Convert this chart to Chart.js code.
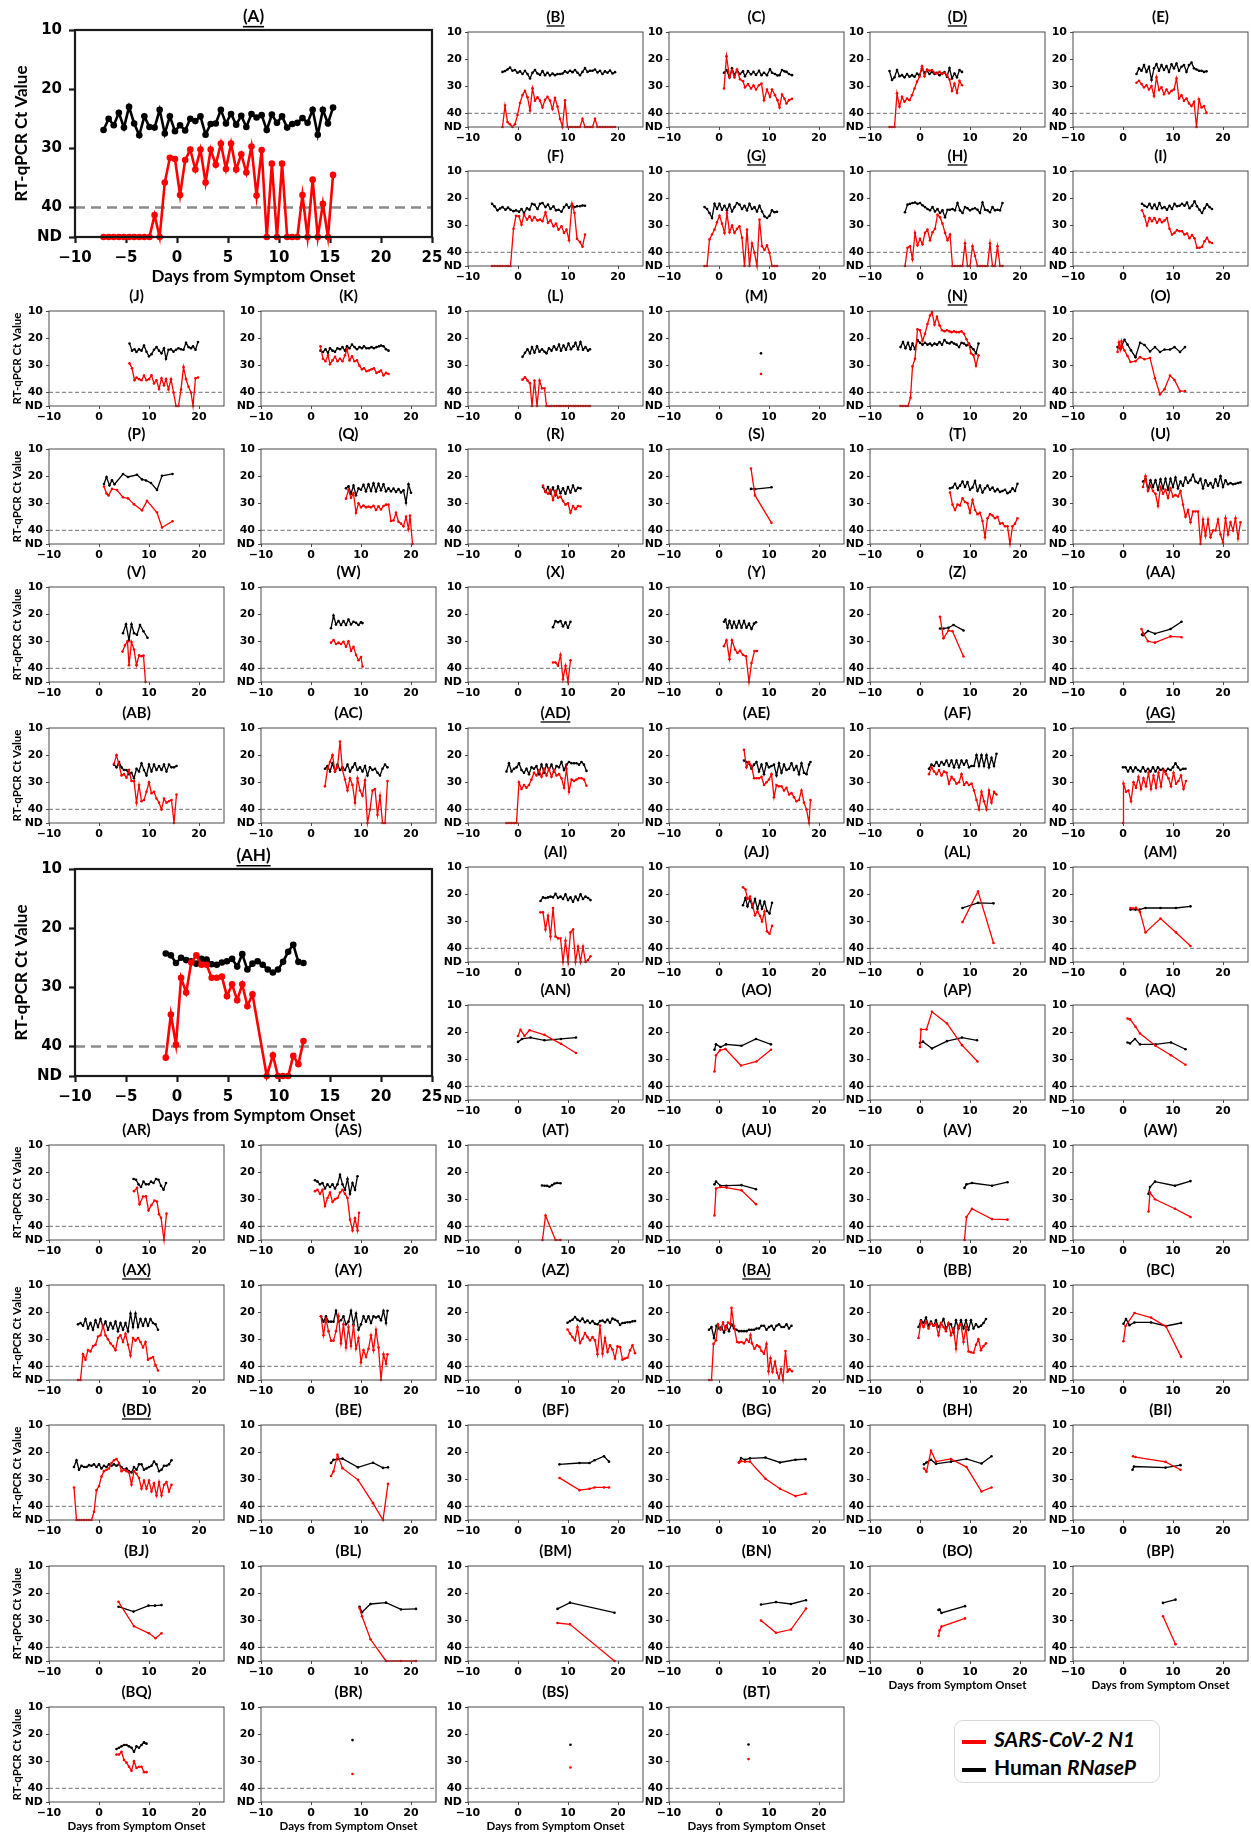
<!DOCTYPE html>
<html>
<head>
<meta charset="utf-8">
<title>RT-qPCR Ct values by days from symptom onset</title>
<script src="https://cdn.jsdelivr.net/npm/chart.js@4.4.1/dist/chart.umd.min.js"></script>
<style>
  html, body { margin: 0; padding: 0; background: #fff; }
  #fig { position: relative; width: 1251px; height: 1839px; overflow: hidden; }
  #fig canvas { position: absolute; }
  #legend { position: absolute; left: 954px; top: 1720px; width: 206px; height: 63px; border: 1px solid #d9d9d9;
            border-radius: 9px; box-sizing: border-box; font-family: Lato, sans-serif; font-weight: bold; font-size: 21px; color: #000; }
  #legend .row { position: absolute; left: 7px; height: 26px; line-height: 26px; white-space: nowrap; }
  #legend .sw { display: inline-block; width: 24px; height: 4px; vertical-align: middle; margin-right: 8px; }
</style>
</head>
<body>
<div id="fig">
  <div id="legend">
    <div class="row" style="top:5px"><span class="sw" style="background:#ff0000"></span><i>SARS-CoV-2 N1</i></div>
    <div class="row" style="top:33px"><span class="sw" style="background:#000"></span>Human <i>RNaseP</i></div>
  </div>
</div>
<script>
// ND = not detected, plotted on the bottom line
const ND = 45;

const X_TICKS_SMALL = [-10, 0, 10, 20];
const X_TICKS_BIG = [-10, -5, 0, 5, 10, 15, 20, 25];
const Y_TICKS = [10, 20, 30, 40, ND];

// ---- data: days from symptom onset, N1 Ct and RNaseP Ct per participant ----
const days_A = [-7.2,-6.7,-6.2,-5.7,-5.2,-4.7,-4.2,-3.7,-3.2,-2.7,-2.2,-1.7,-1.2,-0.7,-0.2,0.3,0.8,1.3,1.8,2.3,2.8,3.3,3.8,4.3,4.8,5.3,5.8,6.3,6.8,7.3,7.8,8.3,8.8,9.3,9.8,10.3,10.8,11.3,11.8,12.3,12.8,13.3,13.8,14.3,14.8,15.3];
const n1_A = [ND,ND,ND,ND,ND,ND,ND,ND,ND,ND,41.3,ND,35.8,31.6,31.8,37.9,32.0,30.2,33.6,30.2,35.8,30.2,32.8,29.2,33.5,29.2,33.6,31.0,34.1,29.7,38.0,30.3,ND,32.6,ND,32.6,ND,ND,ND,37.9,ND,35.3,ND,39.4,ND,34.5];
const rp_A = [26.9,25.0,26.1,24.0,26.5,23.0,25.8,27.8,24.6,26.4,26.5,23.5,27.5,24.6,27.1,26.1,27.0,25.0,25.4,24.6,27.7,25.9,25.8,23.5,25.8,24.2,26.0,24.5,26.4,24.2,24.8,24.4,26.9,24.3,25.7,24.6,26.5,25.9,25.7,24.9,25.7,23.5,27.7,23.5,25.8,23.1];

const days_B = [-3.1,-2.6,-2.1,-1.6,-1.1,-0.6,-0.1,0.4,0.9,1.4,1.9,2.4,2.9,3.4,3.9,4.4,4.9,5.4,5.9,6.4,6.9,7.4,7.9,8.4,8.9,9.4,9.9,10.4,10.9,11.4,11.9,12.4,12.9,13.4,13.9,14.4,14.9,15.4,15.9,16.4,16.9,17.4,17.9,18.4,18.9,19.4];
const n1_B = [ND,37.1,43.2,44.0,ND,44.0,40.6,36.2,33.2,31.7,34.0,38.9,30.7,35.3,34.1,35.3,37.8,35.0,33.9,35.3,38.4,34.3,37.5,42.0,ND,35.2,ND,ND,ND,ND,ND,ND,42.0,ND,ND,ND,ND,42.0,ND,ND,ND,ND,ND,ND,ND,ND];
const rp_B = [24.7,24.4,23.8,23.1,24.3,24.0,25.0,24.5,25.5,24.3,25.5,27.1,25.0,24.0,25.3,25.8,24.4,25.9,25.0,26.0,25.3,25.9,25.5,25.5,25.3,24.5,25.0,24.3,24.8,24.0,25.0,25.9,24.7,23.3,24.7,24.3,24.3,23.8,24.9,24.3,25.5,24.5,25.0,24.2,25.3,24.8];

const days_C = [1.0,1.5,2.1,2.6,3.1,3.6,4.2,4.8,5.2,5.8,6.4,6.9,7.4,8.0,8.5,9.0,9.6,10.2,10.6,11.2,11.7,12.1,12.6,13.1,13.5,14.0,14.6];
const n1_C = [30.8,18.9,26.7,24.0,26.7,23.8,27.4,28.1,30.4,29.2,30.8,29.7,31.2,29.6,29.0,35.1,31.2,33.9,31.2,33.3,35.1,37.8,33.0,34.6,36.3,35.1,34.6];
const rp_C = [25.0,24.0,26.7,23.4,25.9,24.0,25.5,24.5,26.3,24.4,25.6,24.7,25.8,24.3,25.9,25.0,25.9,23.7,25.0,25.5,26.0,25.9,24.0,24.5,24.7,25.5,25.9];

const days_D = [-6.1,-5.6,-5.1,-4.6,-4.1,-3.6,-3.1,-2.6,-2.1,-1.6,-1.1,-0.6,-0.1,0.4,0.9,1.4,1.9,2.4,2.9,3.4,3.9,4.4,4.9,5.4,5.9,6.4,6.9,7.4,7.9,8.4];
const n1_D = [ND,ND,ND,32.6,37.5,33.9,35.7,34.5,35.1,33.3,30.8,28.3,26.5,22.6,26.3,23.8,24.3,24.0,25.0,25.3,24.7,25.5,25.0,25.9,27.5,31.7,29.0,32.4,28.0,29.6];
const rp_D = [24.4,27.7,26.7,24.0,26.3,25.9,26.7,25.5,26.5,25.9,26.5,25.3,25.9,23.4,25.0,24.3,25.5,24.7,25.5,25.0,25.9,25.3,24.8,26.5,23.3,27.1,25.3,26.7,24.0,24.7];

const days_E = [2.7,3.2,3.7,4.2,4.7,5.2,5.7,6.2,6.7,7.2,7.7,8.2,8.7,9.2,9.7,10.2,10.7,11.2,11.7,12.2,12.7,13.2,13.7,14.2,14.7,15.2,15.7,16.2,16.7];
const n1_E = [28.7,28.0,29.2,30.4,29.6,31.2,29.9,33.6,26.7,31.4,30.4,32.9,31.2,32.6,31.7,31.2,27.1,34.5,33.3,35.3,34.5,36.3,37.3,35.7,ND,34.8,37.8,37.3,39.8];
const rp_E = [25.5,23.4,24.3,22.2,24.7,22.8,27.7,23.4,21.8,24.3,22.2,24.0,22.5,24.7,21.9,23.4,21.6,24.3,22.8,22.2,24.7,22.2,21.3,23.4,23.8,24.3,24.3,24.7,24.5];

const days_F = [-5.2,-4.7,-4.1,-3.6,-3.1,-2.5,-2.0,-1.5,-0.9,-0.4,0.2,0.7,1.2,1.8,2.3,2.8,3.3,3.9,4.4,4.9,5.5,6.0,6.5,7.1,7.6,8.1,8.7,9.2,9.7,10.2,10.8,11.3,11.8,12.4,12.9,13.4];
const n1_F = [ND,ND,ND,ND,ND,ND,ND,ND,31.3,26.5,26.7,29.8,26.1,27.9,26.7,28.2,27.0,28.2,27.9,28.5,25.2,29.1,28.2,30.4,29.4,31.6,30.4,32.8,31.6,35.5,22.1,25.5,35.0,36.2,37.9,33.4];
const rp_F = [22.1,23.0,24.5,23.8,23.3,24.3,23.5,24.3,24.8,24.5,25.0,24.0,25.5,23.7,24.3,22.1,22.4,24.0,22.1,21.8,23.3,22.4,24.0,23.0,24.5,24.3,25.0,23.3,22.4,23.5,22.4,23.3,23.0,23.0,22.7,22.8];

const days_G = [-2.9,-2.4,-1.9,-1.4,-0.9,-0.4,0.1,0.6,1.1,1.6,2.1,2.6,3.1,3.6,4.1,4.6,5.1,5.6,6.1,6.6,7.1,7.6,8.1,8.6,9.1,9.6,10.1,10.6,11.1,11.6];
const n1_G = [ND,ND,35.2,33.4,31.6,28.9,26.5,29.4,32.8,25.5,32.6,30.1,32.8,31.3,30.4,34.6,ND,31.6,ND,36.6,40.1,ND,27.9,37.7,39.1,37.4,40.1,ND,ND,ND];
const rp_G = [23.3,24.0,25.5,27.3,22.1,24.0,22.1,24.3,22.8,24.5,22.4,24.9,23.3,21.8,22.4,24.0,22.8,24.5,22.1,24.0,23.3,24.9,22.8,24.9,26.7,27.3,26.5,24.5,25.2,25.0];

const days_H = [-3.0,-2.5,-2.0,-1.5,-1.0,-0.5,0.0,0.5,1.0,1.5,2.0,2.5,3.0,3.5,4.0,4.5,5.0,5.5,6.0,6.5,7.0,7.5,8.0,8.5,9.0,9.5,10.0,10.5,11.0,11.5,12.0,12.5,13.0,13.5,14.0,14.5,15.0,15.5,16.0,16.5];
const n1_H = [ND,38.3,37.7,42.5,32.8,37.4,35.0,37.0,32.8,31.6,35.5,32.6,31.3,26.1,27.0,29.4,32.8,35.5,33.4,ND,ND,ND,ND,ND,36.6,ND,ND,37.7,41.3,ND,ND,ND,ND,ND,36.6,ND,ND,37.7,ND,ND];
const rp_H = [25.2,22.4,22.1,21.8,21.6,22.1,21.8,22.6,23.3,24.0,24.5,23.3,24.9,24.0,25.5,24.5,27.0,24.3,24.3,24.0,24.5,21.8,24.5,25.5,23.3,23.7,24.5,24.0,23.7,24.3,25.5,21.6,24.3,24.5,25.2,23.3,24.5,24.3,24.5,21.8];

const days_I = [3.8,4.3,4.8,5.3,5.8,6.3,6.8,7.3,7.8,8.3,8.8,9.3,9.8,10.3,10.8,11.3,11.8,12.3,12.8,13.3,13.8,14.3,14.8,15.3,15.8,16.3,16.8,17.3,17.8];
const n1_I = [24.5,26.7,30.1,27.3,28.5,27.3,29.1,27.7,28.9,28.2,27.3,31.3,33.4,32.8,31.8,32.2,32.2,33.4,33.0,34.8,33.6,34.8,38.3,38.3,37.9,35.9,34.6,36.2,36.5];
const rp_I = [22.1,22.8,23.3,22.1,23.7,22.4,24.0,21.8,23.7,23.3,24.3,22.8,24.0,22.1,23.0,22.8,22.1,22.8,21.6,23.7,22.8,21.2,23.0,24.3,25.5,23.7,22.3,23.3,24.0];

const days_J = [6.1,6.6,7.1,7.5,8.0,8.5,9.0,9.5,10.0,10.5,11.0,11.5,12.0,12.5,13.0,13.4,13.9,14.4,14.9,15.4,15.9,16.4,16.9,17.4,17.9,18.4,18.8,19.3,19.8];
const n1_J = [29.3,31.1,35.5,34.5,35.1,35.5,33.8,35.5,35.1,33.7,36.7,35.5,38.7,34.8,37.4,35.1,38.9,35.1,40.0,ND,ND,38.9,30.6,35.1,37.9,40.0,ND,34.8,34.5];
const rp_J = [22.0,24.6,24.1,25.1,24.1,24.6,22.7,25.0,26.7,25.9,24.3,23.3,24.6,25.6,23.7,27.6,24.3,24.1,25.0,24.3,23.7,24.1,24.3,21.7,23.3,23.7,23.0,24.3,21.4];

const days_K = [1.9,2.4,2.9,3.4,3.8,4.3,4.8,5.3,5.8,6.3,6.8,7.2,7.7,8.2,8.7,9.2,9.7,10.2,10.6,11.1,11.6,12.1,12.6,13.1,13.6,14.0,14.5,15.0,15.5];
const n1_K = [23.0,27.6,28.5,26.3,29.6,28.2,26.9,28.5,27.6,28.5,26.3,24.1,28.2,26.7,28.5,28.2,30.2,31.5,31.1,32.2,31.9,31.5,31.1,32.8,32.4,31.9,33.7,32.8,33.2];
const rp_K = [24.6,25.1,24.1,25.4,23.7,24.6,25.0,23.7,24.1,23.3,24.6,23.0,23.7,22.4,23.3,24.1,23.3,23.7,23.0,23.7,23.7,23.3,23.7,23.3,23.0,22.7,23.0,24.1,24.6];

const days_L = [0.9,1.4,1.9,2.4,2.8,3.3,3.8,4.3,4.8,5.3,5.7,6.2,6.7,7.2,7.7,8.2,8.6,9.1,9.6,10.1,10.6,11.1,11.5,12.0,12.5,13.0,13.5,14.0,14.4];
const n1_L = [35.3,34.4,35.6,36.6,ND,35.6,ND,35.6,38.5,38.5,ND,ND,ND,ND,ND,ND,ND,ND,ND,ND,ND,ND,ND,ND,ND,ND,ND,ND,ND];
const rp_L = [26.9,25.4,24.1,25.6,23.3,25.4,23.0,25.0,24.1,25.0,25.6,23.7,24.6,23.0,24.3,22.4,24.6,22.7,24.3,22.0,24.1,23.0,21.7,24.1,21.4,24.3,23.3,24.6,24.1];

const days_M = [8.4];
const n1_M = [33.2];
const rp_M = [25.6];

const days_N = [-3.9,-3.4,-2.9,-2.4,-1.9,-1.5,-1.0,-0.5,0.0,0.5,1.0,1.5,2.0,2.4,2.9,3.4,3.9,4.4,4.9,5.4,5.9,6.3,6.8,7.3,7.8,8.3,8.8,9.3,9.8,10.2,10.7,11.2,11.7];
const n1_N = [ND,ND,ND,ND,42.0,30.4,27.6,16.7,17.1,21.0,18.4,14.8,11.7,10.4,15.0,12.1,15.3,17.1,17.5,17.1,17.5,17.8,17.5,17.8,17.8,17.5,18.4,20.4,22.4,25.6,26.3,30.2,26.3];
const rp_N = [23.3,21.4,23.7,21.7,24.1,22.0,24.1,20.7,21.7,22.4,21.7,22.4,22.0,22.7,22.0,22.4,21.4,22.4,20.7,21.7,22.0,21.4,22.0,22.4,23.3,21.7,22.0,22.7,22.0,23.3,24.1,25.6,22.0];

const n1Days_O = [-1.1,-0.8,-0.5,-0.3,-0.1,0.3,0.9,1.5,2.5,3.4,4.3,5.4,6.4,7.4,8.3,9.4,10.3,11.4,12.4];
const n1_O = [25.1,21.5,24.2,21.2,23.3,24.5,26.6,28.8,28.5,27.0,27.8,27.3,34.8,40.7,38.8,33.8,35.4,39.5,39.5];
const rpDays_O = [-1.1,-0.5,0.3,0.9,1.6,2.5,3.4,4.3,5.4,6.4,7.4,8.3,9.4,10.3,11.4,12.4];
const rp_O = [23.3,23.8,20.6,22.4,24.5,27.0,21.7,22.5,24.9,23.3,25.1,24.2,24.2,23.3,25.1,23.3];

const n1Days_P = [1.0,1.5,1.9,2.6,3.6,4.8,5.8,7.0,8.6,9.6,11.6,12.6,14.7];
const n1_P = [23.8,26.4,27.1,24.7,25.1,27.8,28.2,30.4,32.6,29.1,33.4,38.9,36.6];
const rpDays_P = [1.0,1.5,2.1,2.6,3.1,4.8,5.8,7.6,8.6,9.4,10.4,11.6,12.6,14.7];
const rp_P = [22.9,20.3,23.4,21.5,23.0,19.2,20.3,19.5,21.2,21.6,22.5,25.1,19.9,19.2];

const n1Days_Q = [7.0,7.5,8.0,8.5,9.0,9.5,10.0,10.5,11.0,11.5,12.0,12.5,13.0,13.5,14.0,14.5,15.0,15.5,16.0,16.5,17.0,17.5,18.0,18.5,19.0,19.5,19.8,20.3];
const n1_Q = [28.3,25.0,28.0,26.3,33.5,30.0,31.5,30.8,31.5,31.2,31.5,30.9,32.5,31.1,32.3,31.0,30.5,30.5,36.5,36.3,33.5,36.8,37.5,38.5,35.0,39.5,34.5,ND];
const rpDays_Q = [7.0,7.5,8.0,8.5,9.0,9.5,10.0,10.5,11.0,11.5,12.0,12.5,13.0,13.5,14.0,14.5,15.0,15.5,16.0,16.5,17.0,17.5,18.0,18.5,19.0,19.5,20.0];
const rp_Q = [24.5,23.7,26.5,23.5,27.0,24.5,25.0,23.2,25.6,23.0,25.5,22.6,25.6,22.8,25.2,23.0,25.6,24.5,25.6,24.6,25.8,24.8,26.0,25.2,29.8,23.0,26.1];

const days_R = [5.0,5.5,6.0,6.5,7.0,7.5,8.0,8.5,9.0,9.5,10.0,10.5,11.0,11.5,12.0,12.5];
const n1_R = [23.5,25.8,26.5,25.0,28.8,25.5,28.0,27.5,29.2,30.5,30.0,33.5,31.0,32.2,31.0,31.2];
const rp_R = [24.0,25.8,24.0,26.5,24.2,27.0,23.8,26.3,24.5,26.5,24.0,26.0,23.5,25.5,24.3,24.5];

const days_S = [6.4,7.2,10.5];
const n1_S = [17.2,27.1,37.2];
const rp_S = [24.7,24.8,24.1];

const days_T = [6.0,6.5,7.0,7.5,8.0,8.5,9.0,9.5,10.0,10.5,11.0,11.5,12.0,12.5,13.0,13.5,14.0,14.5,15.0,15.5,16.0,16.5,17.0,17.5,18.0,18.5,19.0,19.5];
const n1_T = [26.0,30.5,32.5,30.5,30.8,28.2,29.5,30.0,33.5,28.8,32.5,34.0,33.5,36.5,42.5,35.5,34.0,34.5,35.5,35.0,37.5,37.3,38.5,38.5,ND,38.5,37.5,35.5];
const rp_T = [24.5,24.2,22.8,24.5,23.5,22.0,24.0,22.2,25.0,24.2,21.8,25.5,23.5,26.0,24.5,23.5,25.0,24.2,25.6,24.8,25.8,25.5,25.0,26.3,25.8,24.5,25.5,22.8];

const days_U = [4.0,4.5,5.0,5.5,6.0,6.5,7.0,7.5,8.0,8.5,9.0,9.5,10.0,10.5,11.0,11.5,12.0,12.5,13.0,13.5,14.0,14.5,15.0,15.5,16.0,16.5,17.0,17.5,18.0,18.5,19.0,19.5,20.0,20.5,21.0,21.5,22.0,22.5,23.0,23.5];
const n1_U = [24.0,20.0,25.5,23.5,25.5,26.5,31.0,24.0,26.5,25.0,28.0,24.5,27.5,27.0,27.5,25.5,30.5,35.0,32.5,37.0,33.0,33.0,33.0,ND,36.0,42.0,36.0,42.5,40.0,40.0,36.0,41.5,44.5,35.5,41.5,37.0,40.0,35.5,43.0,37.0];
const rp_U = [22.0,21.0,25.0,21.5,24.0,21.5,25.0,21.2,24.5,21.0,25.0,21.0,24.0,20.5,24.5,22.0,23.5,20.5,22.5,21.5,19.5,22.0,22.5,21.0,24.5,21.5,23.5,22.5,24.2,21.2,23.5,20.0,24.0,21.5,23.0,22.5,23.0,22.8,22.5,22.3];

const n1Days_V = [4.7,5.2,5.7,6.0,6.5,7.0,7.5,8.0,8.5,8.9,9.3];
const n1_V = [33.8,31.5,30.0,38.8,30.3,33.0,38.8,35.2,35.5,35.3,ND];
const rpDays_V = [4.8,5.4,6.0,6.5,7.0,7.6,8.2,8.9,9.7];
const rp_V = [27.0,23.7,29.6,23.7,27.0,27.6,24.0,26.3,28.7];

const days_W = [4.0,4.5,5.0,5.5,6.0,6.5,7.0,7.5,8.0,8.5,9.0,9.5,10.0,10.3];
const n1_W = [30.5,29.5,31.0,30.5,31.0,30.2,32.0,30.0,33.5,32.0,35.0,37.0,35.8,39.3];
const rp_W = [25.2,20.5,23.8,22.5,24.0,22.5,24.0,22.0,23.8,22.8,23.2,24.0,23.0,23.3];

const days_X = [7.0,7.5,8.0,8.5,9.0,9.5,10.0,10.5];
const n1_X = [37.8,37.8,39.0,35.0,44.0,39.0,ND,37.0];
const rp_X = [24.8,22.5,23.0,22.5,24.5,23.0,25.0,22.8];

const n1Days_Y = [1.0,1.5,2.1,2.6,3.2,3.7,4.2,4.8,5.4,6.0,6.5,7.1,7.6];
const n1_Y = [31.8,29.6,36.6,29.6,33.0,34.3,33.5,35.0,35.5,ND,38.0,33.6,33.6];
const rpDays_Y = [1.0,1.3,1.7,2.1,2.6,3.0,3.5,4.0,4.5,5.0,5.5,6.0,6.5,7.0,7.4];
const rp_Y = [22.8,22.0,25.0,22.5,25.0,22.8,25.0,22.5,25.0,22.5,25.0,23.5,25.5,23.5,23.0];

const n1Days_Z = [4.0,4.7,5.7,6.5,8.7];
const n1_Z = [21.0,28.9,26.0,26.3,35.6];
const rpDays_Z = [4.0,4.7,5.7,6.7,8.7];
const rp_Z = [25.3,25.3,25.0,24.0,26.0];

const n1Days_AA = [3.7,4.0,5.0,6.4,9.5,11.7];
const n1_AA = [25.5,27.0,30.0,30.5,28.2,28.5];
const rpDays_AA = [3.8,4.0,5.0,6.4,9.5,11.7];
const rp_AA = [27.5,27.8,26.2,27.2,25.5,22.8];

const days_AB = [3.0,3.5,4.0,4.5,5.0,5.5,6.0,6.5,7.0,7.5,8.0,8.5,9.0,9.5,10.0,10.5,11.0,11.5,12.0,12.5,13.0,13.5,14.0,14.5,15.0,15.5];
const n1_AB = [23.2,20.0,23.5,27.5,27.0,28.3,25.5,29.5,29.5,37.5,31.0,37.0,36.5,33.5,30.0,34.0,33.5,36.0,37.5,40.0,36.0,37.5,37.0,36.5,ND,34.5];
const rp_AB = [23.5,24.5,22.5,24.5,25.5,25.5,27.0,26.5,28.5,25.0,26.0,23.0,25.5,27.5,23.5,26.0,23.5,25.5,24.0,25.5,23.5,26.0,23.5,24.5,24.5,24.0];

const days_AC = [2.8,3.3,3.8,4.3,4.8,5.3,5.8,6.3,6.8,7.3,7.8,8.3,8.8,9.3,9.8,10.3,10.8,11.3,11.8,12.3,12.8,13.3,13.8,14.3,14.8,15.3];
const n1_AC = [31.5,25.0,22.5,20.0,26.0,24.5,15.0,25.5,29.0,33.0,28.5,31.0,37.5,28.5,33.0,35.0,29.3,ND,40.0,33.0,32.5,42.0,35.0,ND,ND,29.5];
const rp_AC = [25.0,24.0,26.0,23.0,26.0,23.5,25.5,24.5,25.5,23.5,26.0,24.5,23.0,25.5,24.5,26.0,24.0,27.5,24.5,25.5,25.0,26.5,27.5,25.0,23.5,24.5];

const days_AD = [-2.3,-1.8,-1.3,-0.8,-0.3,0.2,0.7,1.2,1.7,2.2,2.7,3.2,3.7,4.2,4.7,5.2,5.7,6.2,6.7,7.2,7.7,8.2,8.7,9.2,9.7,10.2,10.7,11.2,11.7,12.2,12.7,13.2,13.7];
const n1_AD = [ND,ND,ND,ND,ND,30.0,32.5,31.0,32.0,31.0,29.0,26.5,27.5,25.5,28.0,25.0,27.5,25.0,28.0,25.5,27.5,27.0,28.5,32.0,25.0,33.5,29.0,29.5,29.0,28.5,28.5,29.0,31.3];
const rp_AD = [26.0,23.0,26.0,25.0,24.5,23.0,25.5,26.5,25.0,27.0,24.5,25.0,24.0,27.0,23.5,26.5,23.5,25.5,23.5,26.0,24.0,24.5,22.5,25.5,23.5,22.5,23.0,23.0,23.0,23.5,22.5,23.5,25.8];

const days_AE = [5.0,5.5,6.0,6.5,7.0,7.5,8.0,8.5,9.0,9.5,10.0,10.5,11.0,11.5,12.0,12.5,13.0,13.5,14.0,14.5,15.0,15.5,16.0,16.5,17.0,17.5,18.0,18.3];
const n1_AE = [18.0,24.5,22.5,24.0,28.5,28.5,28.5,28.0,31.0,30.0,29.0,27.0,35.5,31.0,31.5,31.5,33.0,32.0,34.5,34.0,35.5,37.0,36.5,33.0,37.5,40.0,ND,36.5];
const rp_AE = [22.0,22.5,23.0,25.0,23.5,22.5,26.0,23.5,27.0,23.0,24.5,24.0,23.5,27.5,23.0,26.5,23.5,25.5,25.0,23.0,25.5,24.0,27.0,23.0,26.5,27.0,23.5,22.5];

const days_AF = [1.8,2.3,2.8,3.3,3.8,4.3,4.8,5.3,5.8,6.3,6.8,7.3,7.8,8.3,8.8,9.3,9.8,10.3,10.8,11.3,11.8,12.3,12.8,13.3,13.8,14.3,14.8,15.3];
const n1_AF = [27.0,24.5,26.0,27.0,25.5,27.5,26.0,26.5,30.5,28.0,29.0,30.5,30.0,27.0,31.0,30.0,31.0,30.5,33.0,36.5,40.0,33.5,37.0,40.0,33.0,37.5,33.5,34.5];
const rp_AF = [25.0,23.5,24.0,22.5,24.0,22.5,23.5,22.0,24.0,22.0,24.5,22.0,24.5,22.0,23.5,22.0,24.5,24.0,24.0,20.0,24.0,20.0,24.0,20.0,24.5,21.0,24.0,19.5];

const n1Days_AG = [0.0,0.1,0.6,1.1,1.6,2.1,2.6,3.1,3.6,4.1,4.6,5.1,5.6,6.1,6.6,7.1,7.6,8.1,8.6,9.1,9.6,10.1,10.6,11.1,11.6,12.1,12.6];
const n1_AG = [ND,30.5,33.5,33.0,37.0,30.0,32.0,28.0,32.5,28.5,31.5,26.5,32.5,27.5,32.0,26.5,31.5,25.5,27.0,28.5,31.5,26.5,30.5,29.5,27.5,32.5,29.5];
const rpDays_AG = [0.0,0.5,1.0,1.5,2.0,2.5,3.0,3.5,4.0,4.5,5.0,5.5,6.0,6.5,7.0,7.5,8.0,8.5,9.0,9.5,10.0,10.5,11.0,11.5,12.0,12.5];
const rp_AG = [24.5,24.5,26.0,24.5,26.0,24.5,25.5,26.0,24.5,26.0,25.0,26.0,24.5,26.0,24.5,25.5,25.0,26.0,25.0,25.5,24.5,23.0,24.5,25.5,25.0,25.0];

const n1Days_AH = [-1.1,-0.6,-0.1,0.4,0.9,1.4,1.9,2.4,2.9,3.4,3.9,4.4,4.9,5.4,5.9,6.4,6.9,7.4,8.8,9.4,9.9,10.4,10.9,11.4,11.9,12.4];
const n1_AH = [41.9,34.6,39.7,28.4,30.9,25.8,24.6,26.2,26.2,28.4,28.4,28.2,31.5,29.5,32.2,29.5,33.2,31.2,ND,41.5,ND,ND,ND,41.6,43.0,39.1];
const rpDays_AH = [-1.1,-0.6,-0.1,0.4,0.9,1.4,1.9,2.4,2.9,3.4,3.9,4.4,4.9,5.4,5.9,6.4,6.9,7.4,7.9,8.4,8.9,9.4,9.9,10.4,10.9,11.4,11.9,12.4];
const rp_AH = [24.3,24.6,25.9,25.0,25.4,25.6,26.0,25.2,25.3,26.1,26.2,25.8,25.6,25.2,26.5,24.4,27.0,26.0,25.6,26.2,27.0,27.5,27.0,25.7,24.0,22.8,25.7,25.9];

const days_AI = [4.5,5.0,5.5,6.0,6.5,7.0,7.5,8.0,8.5,9.0,9.5,10.0,10.5,11.0,11.5,12.0,12.5,13.0,13.5,14.0,14.5];
const n1_AI = [26.7,26.7,33.0,28.0,35.6,25.1,35.6,36.3,36.3,ND,37.2,ND,34.1,33.0,ND,39.3,ND,39.3,ND,44.3,42.9];
const rp_AI = [22.5,21.2,21.4,21.2,20.9,21.2,19.9,21.4,20.9,21.8,20.1,22.2,21.2,22.8,20.9,22.2,20.1,21.8,20.9,21.4,22.2];

const days_AJ = [4.8,5.3,5.7,6.2,6.7,7.2,7.7,8.2,8.6,9.1,9.6,10.1,10.6];
const n1_AJ = [17.5,18.3,21.8,20.9,23.8,27.8,26.4,28.0,30.1,26.4,33.7,34.6,31.7];
const rp_AJ = [24.1,21.4,24.5,21.8,24.9,21.8,25.4,22.5,25.4,22.8,26.2,27.1,23.2];

const days_AL = [8.5,11.6,14.7];
const n1_AL = [30.3,19.0,38.0];
const rp_AL = [25.1,23.2,23.4];

const n1Days_AM = [1.5,2.0,2.6,3.4,4.5,7.5,10.6,13.5];
const n1_AM = [25.1,25.3,25.0,26.6,34.1,29.0,34.1,39.1];
const rpDays_AM = [1.5,2.5,3.3,4.5,7.5,10.6,13.5];
const rp_AM = [25.7,25.7,25.7,25.1,25.1,25.1,24.5];

const n1Days_AN = [0.0,0.5,1.3,2.3,5.3,8.6,11.6];
const n1_AN = [21.4,19.1,21.4,19.3,21.0,24.3,27.7];
const rpDays_AN = [0.0,0.8,2.5,5.3,8.6,11.6];
const rp_AN = [23.6,22.5,22.0,23.0,22.5,22.0];

const n1Days_AO = [-0.9,-0.6,0.2,1.3,4.4,7.5,10.4];
const n1_AO = [34.5,28.5,26.7,26.2,32.3,30.8,26.5];
const rpDays_AO = [-0.9,-0.6,0.3,1.4,4.5,7.4,10.4];
const rp_AO = [26.5,24.5,25.5,24.5,25.0,22.5,24.5];

const n1Days_AP = [0.0,0.2,1.3,2.4,5.4,8.4,11.5];
const n1_AP = [25.5,19.0,19.0,12.5,16.8,24.8,30.8];
const rpDays_AP = [0.0,0.6,2.4,5.4,8.4,11.4];
const rp_AP = [24.0,23.5,26.0,23.3,22.0,23.0];

const n1Days_AQ = [0.9,1.4,2.5,3.4,6.5,9.6,12.5];
const n1_AQ = [15.0,15.3,18.0,20.5,25.0,28.5,32.0];
const rpDays_AQ = [0.9,1.4,2.4,3.4,6.5,9.6,12.5];
const rp_AQ = [23.8,24.2,22.5,24.5,24.5,23.8,26.3];

const n1Days_AR = [7.0,7.6,8.1,8.8,9.4,9.9,10.5,11.1,11.6,12.0,12.4,13.0,13.5];
const n1_AR = [27.0,25.8,31.8,29.0,28.9,34.1,32.1,30.5,30.8,35.5,36.8,ND,35.3];
const rpDays_AR = [6.9,7.4,7.9,8.4,8.9,9.4,9.9,10.4,10.9,11.4,11.9,12.4,12.9,13.4];
const rp_AR = [22.5,22.8,24.5,25.5,23.5,24.5,24.5,23.5,24.0,22.5,22.8,25.0,26.5,24.0];

const n1Days_AS = [0.8,1.3,1.8,2.3,2.8,3.3,3.8,4.3,4.8,5.3,5.8,6.3,6.8,7.3,7.8,8.3,8.8,9.3,9.6];
const n1_AS = [27.0,26.5,28.0,26.5,32.5,29.5,27.5,31.0,30.0,29.5,27.5,26.5,28.0,29.5,37.5,41.5,37.0,41.5,35.0];
const rpDays_AS = [0.8,1.3,1.8,2.3,2.8,3.3,3.8,4.3,4.8,5.3,5.8,6.3,6.8,7.3,7.8,8.3,8.8,9.3];
const rp_AS = [23.0,23.5,24.5,24.0,26.0,24.5,25.5,24.5,26.0,24.5,21.0,24.5,26.5,22.5,28.0,24.0,26.5,21.5];

const n1Days_AT = [4.9,5.5,7.5,8.5];
const n1_AT = [ND,36.0,ND,ND];
const rpDays_AT = [4.8,5.3,5.8,6.3,6.8,7.3,7.8,8.5];
const rp_AT = [24.9,25.0,25.0,25.4,24.8,24.2,24.0,24.1];

const days_AU = [-0.9,-0.6,0.3,1.5,4.5,7.4];
const n1_AU = [36.0,26.0,25.5,25.7,26.7,31.8];
const rp_AU = [24.5,23.5,25.0,25.0,24.8,26.3];

const days_AV = [8.9,9.3,10.4,14.4,17.5];
const n1_AV = [ND,36.5,33.5,37.3,37.5];
const rp_AV = [25.8,24.5,24.0,25.0,23.7];

const days_AW = [5.1,5.4,6.4,10.4,13.5];
const n1_AW = [34.5,27.5,30.0,33.5,36.5];
const rp_AW = [28.0,25.5,23.5,25.0,23.3];

const days_AX = [-4.2,-3.7,-3.2,-2.7,-2.2,-1.7,-1.2,-0.7,-0.2,0.3,0.8,1.3,1.8,2.3,2.8,3.3,3.8,4.3,4.8,5.3,5.8,6.3,6.8,7.3,7.8,8.3,8.8,9.3,9.8,10.3,10.8,11.3,11.8];
const n1_AX = [ND,ND,35.5,37.5,34.0,34.5,32.5,32.0,29.0,28.5,25.0,28.5,30.0,31.5,32.5,34.0,29.5,28.5,31.0,28.0,32.0,36.0,29.5,30.5,29.5,31.0,33.0,31.0,37.5,37.0,36.5,39.5,41.5];
const rp_AX = [24.5,24.0,25.0,22.5,26.0,24.0,26.5,23.0,25.5,22.5,25.5,23.5,26.5,24.0,26.0,23.5,27.0,24.0,26.5,24.0,27.0,20.5,25.5,20.5,25.5,22.5,25.0,22.5,25.0,22.5,24.0,24.5,26.5];

const days_AY = [2.0,2.5,3.0,3.5,4.0,4.5,5.0,5.5,6.0,6.5,7.0,7.5,8.0,8.5,9.0,9.5,10.0,10.5,11.0,11.5,12.0,12.5,13.0,13.5,14.0,14.5,15.0,15.3];
const n1_AY = [21.5,28.5,22.5,27.0,30.5,30.5,27.0,21.5,31.5,24.5,33.0,25.5,32.5,25.0,33.5,29.5,38.5,34.0,36.5,33.5,28.5,34.0,26.5,33.0,ND,35.5,39.0,35.5];
const rp_AY = [21.5,23.5,21.5,23.5,23.5,23.5,19.5,23.5,23.0,21.5,24.5,23.5,19.5,24.5,20.5,26.5,24.5,21.5,23.5,21.5,24.0,21.5,22.0,21.5,23.0,19.5,24.0,19.5];

const days_AZ = [9.9,10.4,10.9,11.4,11.9,12.4,12.9,13.4,13.9,14.4,14.9,15.4,15.9,16.4,16.9,17.4,17.9,18.4,18.9,19.4,19.9,20.4,20.9,21.4,21.9,22.4,22.9,23.4];
const n1_AZ = [26.4,27.9,29.2,30.4,25.5,31.4,29.8,27.7,29.2,30.4,29.2,30.4,35.5,24.9,35.3,29.5,34.7,32.2,33.8,37.1,32.6,32.9,37.5,37.1,36.8,34.1,32.2,35.1];
const rp_AZ = [23.9,23.3,22.8,21.8,22.8,23.3,22.4,23.7,23.1,24.0,23.3,24.3,24.5,23.3,23.1,23.7,22.8,23.9,22.4,22.8,23.3,24.7,24.0,23.9,23.7,23.7,23.4,23.3];

const n1Days_BA = [-2.0,-1.5,-1.1,-0.6,-0.2,0.3,0.8,1.3,1.8,2.3,2.5,3.0,3.6,4.0,4.5,5.0,5.5,6.0,6.3,6.6,7.1,7.6,8.1,8.5,9.0,9.5,9.9,10.3,10.7,11.2,11.6,12.0,12.4,12.8,13.3,13.7,14.1,14.6];
const n1_BA = [ND,ND,31.7,30.4,24.5,26.5,23.8,26.5,23.8,24.5,18.4,25.2,31.0,31.2,31.0,31.5,30.1,31.0,28.4,31.5,33.5,32.2,32.8,34.3,35.3,31.7,41.8,37.0,42.0,38.3,42.3,44.3,41.0,ND,34.3,42.0,41.0,41.8];
const rpDays_BA = [-2.0,-1.5,-1.0,-0.5,0.0,0.5,1.0,1.5,2.0,2.5,3.0,3.5,4.0,4.5,5.0,5.5,6.0,6.5,7.0,7.5,8.0,8.5,9.0,9.5,10.0,10.5,11.0,11.5,12.0,12.5,13.0,13.5,14.0,14.5];
const rp_BA = [26.5,25.5,29.5,25.0,26.0,25.5,27.5,25.0,27.0,24.5,26.0,26.5,27.0,27.0,27.0,27.0,26.5,26.5,26.5,26.0,26.0,25.0,25.0,26.5,25.5,25.0,26.5,25.0,24.5,25.5,25.5,24.5,26.0,25.0];

const days_BB = [-0.3,0.2,0.7,1.2,1.7,2.2,2.7,3.2,3.7,4.2,4.7,5.2,5.7,6.2,6.7,7.2,7.7,8.2,8.7,9.2,9.7,10.2,10.7,11.2,11.7,12.2,12.7,13.2];
const n1_BB = [29.5,23.5,25.5,23.5,26.0,24.0,25.0,24.5,28.5,24.0,25.5,27.0,24.0,28.5,26.0,33.5,25.0,24.5,31.0,25.5,34.5,34.8,35.0,32.0,30.0,34.0,32.5,31.5];
const rp_BB = [25.5,23.0,24.0,22.0,25.0,23.5,25.0,23.0,25.5,24.5,22.5,26.0,24.5,24.5,27.5,23.0,26.0,23.0,26.0,23.0,26.5,23.0,26.0,24.5,25.5,25.0,24.0,22.5];

const n1Days_BC = [0.1,0.5,2.3,5.6,8.6,11.6];
const n1_BC = [30.7,25.1,20.3,22.0,25.3,36.4];
const rpDays_BC = [0.1,0.6,1.3,2.3,5.6,8.6,11.6];
const rp_BC = [24.3,22.5,24.8,23.8,23.8,25.1,24.0];

const days_BD = [-5.0,-4.5,-4.0,-3.5,-3.0,-2.5,-2.0,-1.5,-1.0,-0.5,0.0,0.5,1.0,1.5,2.0,2.5,3.0,3.5,4.0,4.5,5.0,5.5,6.0,6.5,7.0,7.5,8.0,8.5,9.0,9.5,10.0,10.5,11.0,11.5,12.0,12.5,13.0,13.5,14.0,14.5];
const n1_BD = [33.0,ND,ND,ND,ND,ND,ND,ND,42.0,34.0,32.5,29.0,27.0,26.5,26.0,24.0,23.0,22.5,24.0,27.0,26.5,27.0,27.5,32.0,27.0,28.0,29.5,33.5,30.5,33.5,30.5,34.5,31.5,36.0,31.0,36.0,32.0,31.0,34.5,32.0];
const rp_BD = [25.5,23.0,26.5,25.0,25.5,25.5,24.8,25.0,24.5,25.5,24.5,26.0,25.0,25.5,24.5,25.0,24.5,25.0,24.5,25.5,26.5,26.0,27.0,27.5,25.5,26.5,24.5,24.5,26.5,26.0,25.5,25.0,23.5,24.5,27.0,26.5,25.0,25.0,24.5,23.0];

const days_BE = [4.0,4.5,5.3,6.3,9.4,12.4,14.4,15.4];
const n1_BE = [28.8,27.1,21.0,25.9,30.2,38.8,ND,31.7];
const rp_BE = [24.0,22.8,22.6,22.4,25.6,23.9,25.8,25.6];

const days_BF = [8.3,12.3,14.3,15.3,17.2,18.2];
const n1_BF = [29.5,34.0,33.5,33.0,33.0,33.0];
const rp_BF = [24.5,24.0,24.0,23.0,21.5,23.5];

const days_BG = [4.0,4.4,5.2,6.2,9.3,12.2,15.3,17.3];
const n1_BG = [23.8,23.3,23.5,23.5,29.8,33.5,36.2,35.3];
const rp_BG = [23.8,22.2,22.8,22.3,22.0,23.8,22.8,22.6];

const days_BH = [0.8,1.3,2.2,3.2,6.2,9.3,12.3,14.3];
const n1_BH = [26.0,27.2,19.5,23.5,22.5,25.5,34.5,33.0];
const rp_BH = [24.5,23.8,22.8,24.3,23.5,22.5,24.2,21.5];

const n1Days_BI = [2.0,2.5,8.5,11.5];
const n1_BI = [21.5,21.8,23.6,26.5];
const rpDays_BI = [1.9,2.2,8.5,11.5];
const rp_BI = [26.5,25.3,25.7,24.8];

const n1Days_BJ = [3.9,7.0,10.0,11.3,12.5];
const n1_BJ = [23.2,32.2,34.8,36.6,34.8];
const rpDays_BJ = [3.9,6.9,9.9,11.2,12.5];
const rp_BJ = [25.0,26.8,24.6,24.6,24.4];

const days_BL = [9.7,10.2,11.9,15.0,18.0,21.0];
const n1_BL = [25.5,28.5,37.0,ND,ND,ND];
const rp_BL = [25.0,27.0,24.0,23.5,26.0,25.8];

const days_BM = [7.9,10.4,19.3];
const n1_BM = [31.0,31.5,ND];
const rp_BM = [25.8,23.5,27.2];

const days_BN = [8.4,11.4,14.4,17.4];
const n1_BN = [30.1,34.6,33.4,25.7];
const rp_BN = [24.2,23.3,24.0,22.6];

const days_BO = [3.7,3.9,4.3,9.0];
const n1_BO = [35.8,33.8,32.3,29.3];
const rp_BO = [26.2,26.0,27.3,24.8];

const days_BP = [8.0,10.5];
const n1_BP = [28.5,38.8];
const rp_BP = [23.6,22.4];

const days_BQ = [3.5,4.0,4.5,5.0,5.5,6.0,6.5,7.0,7.5,8.0,8.5,9.0,9.5];
const n1_BQ = [27.5,27.5,26.5,29.5,30.5,32.0,33.5,30.0,32.5,32.0,32.0,34.0,34.0];
const rp_BQ = [25.5,25.0,24.5,24.0,24.0,24.5,25.0,26.5,24.5,25.0,24.0,23.0,23.5];

const days_BR = [8.3];
const n1_BR = [34.7];
const rp_BR = [22.2];

const days_BS = [10.5];
const n1_BS = [32.3];
const rp_BS = [23.9];

const days_BT = [5.9];
const n1_BT = [29.2];
const rp_BT = [23.8];

// ---- assemble series ----
function pts(days, ct) {
  return days.map((d, i) => ({ x: d, y: ct[i] }));
}

const SERIES = {
  A: [pts(days_A, n1_A), pts(days_A, rp_A)],
  B: [pts(days_B, n1_B), pts(days_B, rp_B)],
  C: [pts(days_C, n1_C), pts(days_C, rp_C)],
  D: [pts(days_D, n1_D), pts(days_D, rp_D)],
  E: [pts(days_E, n1_E), pts(days_E, rp_E)],
  F: [pts(days_F, n1_F), pts(days_F, rp_F)],
  G: [pts(days_G, n1_G), pts(days_G, rp_G)],
  H: [pts(days_H, n1_H), pts(days_H, rp_H)],
  I: [pts(days_I, n1_I), pts(days_I, rp_I)],
  J: [pts(days_J, n1_J), pts(days_J, rp_J)],
  K: [pts(days_K, n1_K), pts(days_K, rp_K)],
  L: [pts(days_L, n1_L), pts(days_L, rp_L)],
  M: [pts(days_M, n1_M), pts(days_M, rp_M)],
  N: [pts(days_N, n1_N), pts(days_N, rp_N)],
  O: [pts(n1Days_O, n1_O), pts(rpDays_O, rp_O)],
  P: [pts(n1Days_P, n1_P), pts(rpDays_P, rp_P)],
  Q: [pts(n1Days_Q, n1_Q), pts(rpDays_Q, rp_Q)],
  R: [pts(days_R, n1_R), pts(days_R, rp_R)],
  S: [pts(days_S, n1_S), pts(days_S, rp_S)],
  T: [pts(days_T, n1_T), pts(days_T, rp_T)],
  U: [pts(days_U, n1_U), pts(days_U, rp_U)],
  V: [pts(n1Days_V, n1_V), pts(rpDays_V, rp_V)],
  W: [pts(days_W, n1_W), pts(days_W, rp_W)],
  X: [pts(days_X, n1_X), pts(days_X, rp_X)],
  Y: [pts(n1Days_Y, n1_Y), pts(rpDays_Y, rp_Y)],
  Z: [pts(n1Days_Z, n1_Z), pts(rpDays_Z, rp_Z)],
  AA: [pts(n1Days_AA, n1_AA), pts(rpDays_AA, rp_AA)],
  AB: [pts(days_AB, n1_AB), pts(days_AB, rp_AB)],
  AC: [pts(days_AC, n1_AC), pts(days_AC, rp_AC)],
  AD: [pts(days_AD, n1_AD), pts(days_AD, rp_AD)],
  AE: [pts(days_AE, n1_AE), pts(days_AE, rp_AE)],
  AF: [pts(days_AF, n1_AF), pts(days_AF, rp_AF)],
  AG: [pts(n1Days_AG, n1_AG), pts(rpDays_AG, rp_AG)],
  AH: [pts(n1Days_AH, n1_AH), pts(rpDays_AH, rp_AH)],
  AI: [pts(days_AI, n1_AI), pts(days_AI, rp_AI)],
  AJ: [pts(days_AJ, n1_AJ), pts(days_AJ, rp_AJ)],
  AL: [pts(days_AL, n1_AL), pts(days_AL, rp_AL)],
  AM: [pts(n1Days_AM, n1_AM), pts(rpDays_AM, rp_AM)],
  AN: [pts(n1Days_AN, n1_AN), pts(rpDays_AN, rp_AN)],
  AO: [pts(n1Days_AO, n1_AO), pts(rpDays_AO, rp_AO)],
  AP: [pts(n1Days_AP, n1_AP), pts(rpDays_AP, rp_AP)],
  AQ: [pts(n1Days_AQ, n1_AQ), pts(rpDays_AQ, rp_AQ)],
  AR: [pts(n1Days_AR, n1_AR), pts(rpDays_AR, rp_AR)],
  AS: [pts(n1Days_AS, n1_AS), pts(rpDays_AS, rp_AS)],
  AT: [pts(n1Days_AT, n1_AT), pts(rpDays_AT, rp_AT)],
  AU: [pts(days_AU, n1_AU), pts(days_AU, rp_AU)],
  AV: [pts(days_AV, n1_AV), pts(days_AV, rp_AV)],
  AW: [pts(days_AW, n1_AW), pts(days_AW, rp_AW)],
  AX: [pts(days_AX, n1_AX), pts(days_AX, rp_AX)],
  AY: [pts(days_AY, n1_AY), pts(days_AY, rp_AY)],
  AZ: [pts(days_AZ, n1_AZ), pts(days_AZ, rp_AZ)],
  BA: [pts(n1Days_BA, n1_BA), pts(rpDays_BA, rp_BA)],
  BB: [pts(days_BB, n1_BB), pts(days_BB, rp_BB)],
  BC: [pts(n1Days_BC, n1_BC), pts(rpDays_BC, rp_BC)],
  BD: [pts(days_BD, n1_BD), pts(days_BD, rp_BD)],
  BE: [pts(days_BE, n1_BE), pts(days_BE, rp_BE)],
  BF: [pts(days_BF, n1_BF), pts(days_BF, rp_BF)],
  BG: [pts(days_BG, n1_BG), pts(days_BG, rp_BG)],
  BH: [pts(days_BH, n1_BH), pts(days_BH, rp_BH)],
  BI: [pts(n1Days_BI, n1_BI), pts(rpDays_BI, rp_BI)],
  BJ: [pts(n1Days_BJ, n1_BJ), pts(rpDays_BJ, rp_BJ)],
  BL: [pts(days_BL, n1_BL), pts(days_BL, rp_BL)],
  BM: [pts(days_BM, n1_BM), pts(days_BM, rp_BM)],
  BN: [pts(days_BN, n1_BN), pts(days_BN, rp_BN)],
  BO: [pts(days_BO, n1_BO), pts(days_BO, rp_BO)],
  BP: [pts(days_BP, n1_BP), pts(days_BP, rp_BP)],
  BQ: [pts(days_BQ, n1_BQ), pts(days_BQ, rp_BQ)],
  BR: [pts(days_BR, n1_BR), pts(days_BR, rp_BR)],
  BS: [pts(days_BS, n1_BS), pts(days_BS, rp_BS)],
  BT: [pts(days_BT, n1_BT), pts(days_BT, rp_BT)],
};

// ---- layout ----
const GRID = [
  [null, null, 'B', 'C', 'D', 'E'],
  [null, null, 'F', 'G', 'H', 'I'],
  ['J', 'K', 'L', 'M', 'N', 'O'],
  ['P', 'Q', 'R', 'S', 'T', 'U'],
  ['V', 'W', 'X', 'Y', 'Z', 'AA'],
  ['AB', 'AC', 'AD', 'AE', 'AF', 'AG'],
  [null, null, 'AI', 'AJ', 'AL', 'AM'],
  [null, null, 'AN', 'AO', 'AP', 'AQ'],
  ['AR', 'AS', 'AT', 'AU', 'AV', 'AW'],
  ['AX', 'AY', 'AZ', 'BA', 'BB', 'BC'],
  ['BD', 'BE', 'BF', 'BG', 'BH', 'BI'],
  ['BJ', 'BL', 'BM', 'BN', 'BO', 'BP'],
  ['BQ', 'BR', 'BS', 'BT', null, null],
];
const COL_X = [49, 261, 468, 669, 870, 1073];
const ROW_Y = [32, 171, 311, 449, 587, 728, 867, 1005, 1145, 1285, 1425, 1566, 1707];
const BIG = { A: [75, 30], AH: [75, 869] };

const UNDERLINED = ['A', 'B', 'D', 'G', 'H', 'N', 'AD', 'AG', 'AH', 'AX', 'BA', 'BD'];
const X_TITLED = ['BO', 'BP', 'BQ', 'BR', 'BS', 'BT'];

const RED = '#ff0000', BLACK = '#000000';

const SMALL = { padL: 49, padT: 26, padR: 12, boxW: 175, boxH: 95, tick: 11, tl: 3, xPad: 1.5, yPad: 3,
  titleSize: 15, titleLH: 18, titlePad: { top: 2, bottom: 6 }, axSize: 11.5, axLH: 14, yTitlePad: 10, xTitlePad: 3,
  line: 1.3, dot: 1.3, frame: 1.0, axis: '#4a4a4a', dash: [4, 2.5], dashW: 1.2, xTicks: X_TICKS_SMALL };
const LARGE = { padL: 75, padT: 30, padR: 24, boxW: 357, boxH: 207, tick: 15, tl: 6, xPad: 6, yPad: 7,
  titleSize: 17, titleLH: 21, titlePad: { top: 6, bottom: 3 }, axSize: 17, axLH: 20, yTitlePad: 12, xTitlePad: 12,
  line: 2.6, dot: 3.3, frame: 2.2, axis: '#1a1a1a', dash: [10, 6], dashW: 2.4, xTicks: X_TICKS_BIG };

Chart.defaults.font.family = 'DejaVu Sans';
Chart.defaults.color = '#000';

// dashed Ct=40 line under the data, box on top of it (as matplotlib spines), title underline
const frame = {
  id: 'frame',
  beforeDatasetsDraw(chart, args, o) {
    const { ctx, chartArea: a } = chart;
    const y40 = chart.scales.y.getPixelForValue(40);
    ctx.save();
    ctx.strokeStyle = '#8c8c8c';
    ctx.lineWidth = o.dashW;
    ctx.setLineDash(o.dash);
    ctx.beginPath();
    ctx.moveTo(a.left, y40);
    ctx.lineTo(a.right, y40);
    ctx.stroke();
    ctx.restore();
  },
  afterDatasetsDraw(chart, args, o) {
    const { ctx, chartArea: a } = chart;
    ctx.save();
    ctx.strokeStyle = o.color;
    ctx.lineWidth = o.width;
    ctx.strokeRect(a.left, a.top, a.right - a.left, a.bottom - a.top);
    ctx.restore();
  },
  afterDraw(chart, args, o) {
    if (!o.underline) return;
    const ctx = chart.ctx, a = chart.chartArea;
    ctx.save();
    ctx.font = 'bold ' + o.size + 'px Lato';
    const w = ctx.measureText(o.text).width;
    const cx = (a.left + a.right) / 2;
    ctx.strokeStyle = '#000';
    ctx.lineWidth = o.size > 16 ? 1.6 : 1.3;
    ctx.beginPath();
    ctx.moveTo(cx - w / 2, o.y);
    ctx.lineTo(cx + w / 2, o.y);
    ctx.stroke();
    ctx.restore();
  }
};

const fig = document.getElementById('fig');

function drawPanel(id, left, top, s, yTitle) {
  const xTitle = s === LARGE || X_TITLED.includes(id);
  const padB = s === LARGE ? 62 : (xTitle ? 34 : 18);
  const canvas = document.createElement('canvas');
  canvas.width = s.padL + s.boxW + s.padR;
  canvas.height = s.padT + s.boxH + padB;
  canvas.style.left = (left - s.padL) + 'px';
  canvas.style.top = (top - s.padT) + 'px';
  fig.appendChild(canvas);

  const [n1, rp] = SERIES[id];
  const label = '(' + id + ')';
  const tickFont = { family: 'DejaVu Sans', weight: 'bold', size: s.tick };
  const axTitleFont = { family: 'Lato', weight: 'bold', size: s.axSize, lineHeight: s.axLH + 'px' };

  new Chart(canvas, {
    type: 'line',
    data: {
      datasets: [
        { label: 'SARS-CoV-2 N1', data: n1, borderColor: RED, backgroundColor: RED, pointBackgroundColor: RED,
          borderWidth: s.line, pointRadius: s.dot, pointBorderWidth: 0, pointHoverRadius: 0, tension: 0, clip: false },
        { label: 'Human RNaseP', data: rp, borderColor: BLACK, backgroundColor: BLACK, pointBackgroundColor: BLACK,
          borderWidth: s.line, pointRadius: s.dot, pointBorderWidth: 0, pointHoverRadius: 0, tension: 0, clip: false }
      ]
    },
    options: {
      responsive: false,
      animation: false,
      devicePixelRatio: 1,
      events: [],
      layout: { padding: { left: 0, right: s.padR, top: 0, bottom: 0 } },
      plugins: {
        legend: { display: false },
        tooltip: { enabled: false },
        title: {
          display: true, text: label, color: '#000', fullSize: false,
          font: { family: 'Lato', weight: 'bold', size: s.titleSize, lineHeight: s.titleLH + 'px' },
          padding: s.titlePad
        },
        frame: {
          width: s.frame, color: s.axis, dash: s.dash, dashW: s.dashW,
          underline: UNDERLINED.includes(id), text: label, size: s.titleSize,
          y: s.titlePad.top + s.titleLH / 2 + s.titleSize * 0.6
        }
      },
      scales: {
        x: {
          type: 'linear', min: -10, max: 25,
          afterBuildTicks: sc => { sc.ticks = s.xTicks.map(v => ({ value: v })); },
          afterFit: sc => { sc.height = padB; },
          border: { display: false },
          grid: { drawOnChartArea: false, drawTicks: true, tickLength: s.tl, tickColor: s.axis, tickWidth: s.frame },
          ticks: { font: tickFont, color: '#000', padding: s.xPad, autoSkip: false, maxRotation: 0,
                   callback: v => String(v).replace('-', '\u2212') },
          title: { display: xTitle, text: 'Days from Symptom Onset', color: '#000', font: axTitleFont,
                   padding: { top: 0, bottom: s.xTitlePad } }
        },
        y: {
          type: 'linear', min: 10, max: ND, reverse: true,
          afterBuildTicks: sc => { sc.ticks = Y_TICKS.map(v => ({ value: v })); },
          afterFit: sc => { sc.width = s.padL; },
          border: { display: false },
          grid: { drawOnChartArea: false, drawTicks: true, tickLength: s.tl, tickColor: s.axis, tickWidth: s.frame },
          ticks: { font: tickFont, color: '#000', padding: s.yPad, autoSkip: false,
                   callback: v => (v === ND ? 'ND' : String(v)) },
          title: { display: yTitle, text: 'RT-qPCR Ct Value', color: '#000', font: axTitleFont,
                   padding: { top: s.yTitlePad, bottom: 0 } }
        }
      }
    },
    plugins: [frame]
  });
}

Object.keys(BIG).forEach(id => drawPanel(id, BIG[id][0], BIG[id][1], LARGE, true));
GRID.forEach((row, r) => row.forEach((id, c) => {
  if (id) drawPanel(id, COL_X[c], ROW_Y[r], SMALL, c === 0);
}));
</script>
</body>
</html>
